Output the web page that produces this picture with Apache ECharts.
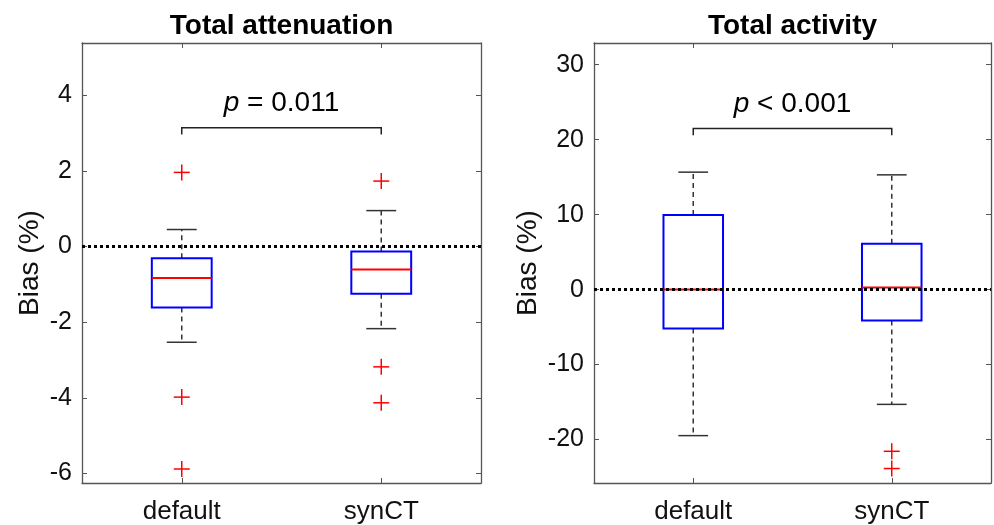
<!DOCTYPE html>
<html>
<head>
<meta charset="utf-8">
<script src="https://cdn.jsdelivr.net/npm/echarts@6/dist/echarts.min.js"></script>
<style>
  html, body { margin: 0; padding: 0; background: #fff; }
  #chart { width: 994px; height: 525px; }
</style>
</head>
<body>
<div id="chart"></div>
<script>
// categories
const categories = ['default', 'synCT'];

// box stats per category: [lowWhisker, q1, median, q3, highWhisker]
const attenBox = [
  [-2.53, -1.61, -0.83, -0.31, 0.45],
  [-2.17, -1.25, -0.61, -0.13, 0.95]
];
const activityBox = [
  [-19.48, -5.19, 0.0, 9.95, 15.67],
  [-15.31, -4.13, 0.27, 6.13, 15.31]
];

// outliers: [categoryIndex, value]
const attenOutliers = [[0, 1.96], [0, -3.98], [0, -5.88], [1, 1.73], [1, -3.18], [1, -4.13]];
const activityOutliers = [[1, -21.57], [1, -23.87]];

// y tick labels
const attenTicks = [-6, -4, -2, 0, 2, 4];
const activityTicks = [-20, -10, 0, 10, 20, 30];

// significance bracket: [bar, tip, label] and label text
const attenBracket = [3.14, 2.96, 3.78];
const activityBracket = [21.5, 20.6, 24.75];
const pLabels = ['= 0.011', '< 0.001'];

const FONT = 'Liberation Sans, Arial, Helvetica, sans-serif';
const FRAME = '#555';

var myChart = echarts.init(document.getElementById('chart'));

function boxRender(params, api) {
  var cat = api.value(0);
  var x = api.coord([cat, 0])[0];
  var band = api.size([1, 0])[0];
  var half = band * 0.15, cap = band * 0.075;
  var y = [1, 2, 3, 4, 5].map(function (i) { return api.coord([cat, api.value(i)])[1]; });
  var dash = { stroke: '#333', lineWidth: 1.5, lineDash: [5, 4] };
  var solid = { stroke: '#333', lineWidth: 1.5 };
  return {
    type: 'group',
    children: [
      { type: 'line', shape: { x1: x, y1: y[3], x2: x, y2: y[4] }, style: dash },
      { type: 'line', shape: { x1: x, y1: y[1], x2: x, y2: y[0] }, style: dash },
      { type: 'line', shape: { x1: x - cap, y1: y[4], x2: x + cap, y2: y[4] }, style: solid },
      { type: 'line', shape: { x1: x - cap, y1: y[0], x2: x + cap, y2: y[0] }, style: solid },
      { type: 'rect', shape: { x: x - half, y: y[3], width: 2 * half, height: y[1] - y[3] },
        style: { fill: 'none', stroke: '#0000ff', lineWidth: 2 } },
      { type: 'line', shape: { x1: x - half, y1: y[2], x2: x + half, y2: y[2] },
        style: { stroke: '#ff0000', lineWidth: 2 } }
    ]
  };
}

function plusRender(params, api) {
  var p = api.coord([api.value(0), api.value(1)]);
  var s = { stroke: '#ff0000', lineWidth: 1.5 };
  return {
    type: 'group',
    children: [
      { type: 'line', shape: { x1: p[0] - 8, y1: p[1], x2: p[0] + 8, y2: p[1] }, style: s },
      { type: 'line', shape: { x1: p[0], y1: p[1] - 8, x2: p[0], y2: p[1] + 8 }, style: s }
    ]
  };
}

function makeBracket(labelIdx) {
  return function (params, api) {
    var a = api.coord([0, api.value(0)]);
    var b = api.coord([1, api.value(0)]);
    var tip = api.coord([0, api.value(1)])[1];
    var ty = api.coord([0, api.value(2)])[1];
    var s = { stroke: '#222', lineWidth: 1.5, fill: 'none' };
    return {
      type: 'group',
      children: [
        { type: 'polyline', shape: { points: [[a[0], tip], [a[0], a[1]], [b[0], b[1]], [b[0], tip]] }, style: s },
        { type: 'text', x: (a[0] + b[0]) / 2, y: ty,
          style: { text: '{i|p} ' + pLabels[labelIdx], fill: '#000',
            fontFamily: FONT, fontSize: 28, align: 'center', verticalAlign: 'middle',
            rich: { i: { fontStyle: 'italic', fontFamily: FONT, fontSize: 28, fill: '#000' } } } }
      ]
    };
  };
}

function xAxes(grid) {
  return [
    { gridIndex: grid, type: 'category', data: categories, position: 'bottom', boundaryGap: true,
      axisLine: { show: true, onZero: false, lineStyle: { color: FRAME, width: 1.3 } },
      axisTick: { show: true, inside: true, length: 5, alignWithLabel: true, interval: 0, lineStyle: { color: FRAME } },
      axisLabel: { color: '#111', fontSize: 26, fontFamily: FONT, margin: 16, interval: 0 },
      splitLine: { show: false } },
    { gridIndex: grid, type: 'category', data: categories, position: 'top', boundaryGap: true,
      axisLine: { show: true, onZero: false, lineStyle: { color: FRAME, width: 1.3 } },
      axisTick: { show: true, inside: true, length: 5, alignWithLabel: true, interval: 0, lineStyle: { color: FRAME } },
      axisLabel: { show: false }, splitLine: { show: false } }
  ];
}

function yAxes(grid, min, max, ticks, gap) {
  return [
    { gridIndex: grid, type: 'value', min: min, max: max, position: 'left',
      name: 'Bias (%)', nameLocation: 'middle', nameGap: gap,
      nameTextStyle: { color: '#111', fontSize: 28, fontFamily: FONT },
      axisLine: { show: true, onZero: false, lineStyle: { color: FRAME, width: 1.3 } },
      axisTick: { show: true, inside: true, length: 5, customValues: ticks, lineStyle: { color: FRAME } },
      axisLabel: { color: '#111', fontSize: 25, fontFamily: FONT, margin: 10, customValues: ticks },
      splitLine: { show: false } },
    { gridIndex: grid, type: 'value', min: min, max: max, position: 'right',
      axisLine: { show: true, onZero: false, lineStyle: { color: FRAME, width: 1.3 } },
      axisTick: { show: true, inside: true, length: 5, customValues: ticks, lineStyle: { color: FRAME } },
      axisLabel: { show: false }, splitLine: { show: false } }
  ];
}

var zeroLine = {
  silent: true, symbol: 'none', label: { show: false },
  lineStyle: { color: '#000', type: [3, 3], width: 3 },
  data: [{ yAxis: 0 }]
};

var option = {
  animation: false,
  backgroundColor: '#fff',
  grid: [
    { left: 82, top: 43, width: 399, height: 441 },
    { left: 594, top: 43, width: 397, height: 441 }
  ],
  graphic: [
    { type: 'text', x: 281.5, y: 26, style: { text: 'Total attenuation', font: 'bold 28px ' + FONT,
      fill: '#000', align: 'center', verticalAlign: 'middle', textAlign: 'center', textVerticalAlign: 'middle' } },
    { type: 'text', x: 792.5, y: 26, style: { text: 'Total activity', font: 'bold 28px ' + FONT,
      fill: '#000', align: 'center', verticalAlign: 'middle', textAlign: 'center', textVerticalAlign: 'middle' } }
  ],
  xAxis: xAxes(0).concat(xAxes(1)),
  yAxis: yAxes(0, -6.25, 5.38, attenTicks, 38).concat(yAxes(1, -25.8, 32.9, activityTicks, 52)),
  series: [
    { type: 'custom', xAxisIndex: 0, yAxisIndex: 0, z: 2, renderItem: boxRender,
      data: attenBox.map(function (b, i) { return [i].concat(b); }) },
    { type: 'custom', xAxisIndex: 0, yAxisIndex: 0, z: 3, renderItem: plusRender,
      data: attenOutliers, markLine: zeroLine },
    { type: 'custom', xAxisIndex: 0, yAxisIndex: 0, z: 3, renderItem: makeBracket(0),
      data: [attenBracket] },
    { type: 'custom', xAxisIndex: 2, yAxisIndex: 2, z: 2, renderItem: boxRender,
      data: activityBox.map(function (b, i) { return [i].concat(b); }) },
    { type: 'custom', xAxisIndex: 2, yAxisIndex: 2, z: 3, renderItem: plusRender,
      data: activityOutliers, markLine: zeroLine },
    { type: 'custom', xAxisIndex: 2, yAxisIndex: 2, z: 3, renderItem: makeBracket(1),
      data: [activityBracket] }
  ]
};
myChart.setOption(option);
</script>
</body>
</html>
